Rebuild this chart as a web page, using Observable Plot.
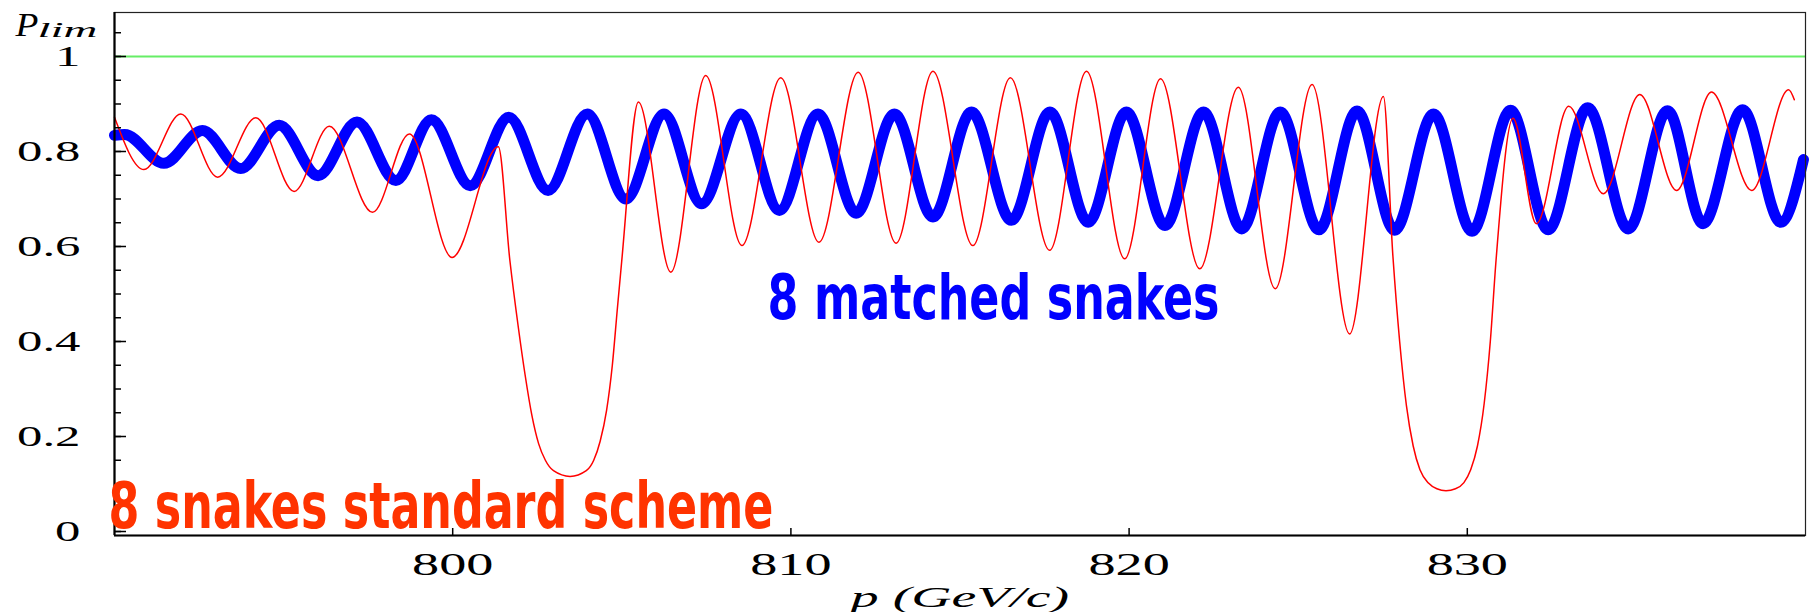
<!DOCTYPE html>
<html><head><meta charset="utf-8">
<script src="https://cdn.jsdelivr.net/npm/d3@7"></script>
<script src="https://cdn.jsdelivr.net/npm/@observablehq/plot@0.6"></script>
<style>html,body{margin:0;padding:0;background:#fff;} #chart svg{display:block}</style>
</head><body><div id="chart"></div>
<script>
// ---- data ----
const blueP = [790.0, 790.3, 791.46, 792.6, 793.73, 794.87, 796.02, 797.17, 798.32, 799.37, 800.52, 801.66, 802.82, 803.98, 805.12, 806.25, 807.36, 808.52, 809.66, 810.8, 811.93, 813.06, 814.2, 815.34, 816.52, 817.66, 818.79, 819.92, 821.06, 822.2, 823.33, 824.47, 825.61, 826.74, 827.85, 829.0, 830.14, 831.28, 832.39, 833.56, 834.76, 835.92, 836.97, 838.14, 839.27, 839.94];
const blueV = [0.834, 0.836, 0.775, 0.844, 0.764, 0.855, 0.749, 0.862, 0.739, 0.867, 0.728, 0.872, 0.718, 0.879, 0.700, 0.879, 0.690, 0.879, 0.676, 0.879, 0.670, 0.879, 0.662, 0.883, 0.655, 0.883, 0.651, 0.883, 0.644, 0.883, 0.637, 0.883, 0.635, 0.885, 0.634, 0.879, 0.632, 0.887, 0.635, 0.892, 0.637, 0.886, 0.648, 0.888, 0.651, 0.783];

const redP = [790.0, 790.87, 791.96, 793.05, 794.18, 795.31, 796.35, 797.63, 798.72, 799.98, 801.35, 801.69, 801.94, 802.14, 802.34, 802.54, 802.74, 802.98, 803.47, 803.95, 804.17, 804.36, 804.55, 804.72, 804.87, 805.0, 805.49, 806.45, 807.48, 808.55, 809.7, 810.83, 811.99, 813.11, 814.2, 815.38, 816.49, 817.65, 818.74, 819.87, 820.93, 822.09, 823.23, 824.32, 825.41, 826.52, 827.52, 827.8, 828.0, 828.2, 828.4, 828.6, 828.85, 829.1, 829.37, 829.65, 829.9, 830.1, 830.3, 830.5, 830.68, 830.85, 831.35, 832.04, 833.0, 834.02, 835.1, 836.19, 837.22, 838.41, 839.5, 839.67];
const redV = [0.872, 0.762, 0.879, 0.746, 0.871, 0.716, 0.853, 0.672, 0.837, 0.577, 0.81, 0.571, 0.430, 0.33, 0.245, 0.185, 0.15, 0.128, 0.116, 0.128, 0.15, 0.19, 0.255, 0.35, 0.47, 0.571, 0.904, 0.546, 0.96, 0.602, 0.955, 0.609, 0.967, 0.607, 0.969, 0.602, 0.955, 0.592, 0.969, 0.574, 0.953, 0.553, 0.935, 0.511, 0.941, 0.416, 0.916, 0.58, 0.40, 0.265, 0.18, 0.13, 0.102, 0.09, 0.086, 0.09, 0.103, 0.13, 0.18, 0.27, 0.40, 0.571, 0.87, 0.648, 0.895, 0.711, 0.92, 0.718, 0.925, 0.718, 0.93, 0.909];

const limitLevel = [1];
const xDomain = [790, 840];
const yDomain = [-0.0084, 1.0926];
const xMajorTicks = [800, 810, 820, 830];
const xTickLabels = ["800", "810", "820", "830"];
const yMinorTicks = [0, 0.05, 0.1, 0.15, 0.2, 0.25, 0.3, 0.35, 0.4, 0.45, 0.5, 0.55, 0.6, 0.65, 0.7, 0.75, 0.8, 0.85, 0.9, 0.95, 1, 1.05];
const yMajorTicks = [0, 0.2, 0.4, 0.6, 0.8, 1];
const yTickLabels = ["0", "0.2", "0.4", "0.6", "0.8", "1"];
const xAxisTitle = ["p (GeV/c)"];
const yAxisTitle = ["P"];
const yAxisTitleSub = ["lim"];
const blueNote = [{text: "8 matched snakes", p: 809.31, v: 0.448}];
const redNote = [{text: "8 snakes standard scheme", p: 789.82, v: 0.008}];

const blue = blueP.map((p, i) => ({p, v: blueV[i]}));
const red = redP.map((p, i) => ({p, v: redV[i]}));

const serif = "'Liberation Serif','Times New Roman','DejaVu Serif',serif";
const narrow = "'Liberation Sans Narrow','Arial Narrow','DejaVu Sans Condensed','Liberation Sans',sans-serif";

const chart = Plot.plot({
  width: 1810, height: 612,
  marginLeft: 114, marginRight: 5, marginTop: 12, marginBottom: 77,
  x: {domain: xDomain},
  y: {domain: yDomain},
  style: {background: "white", fontFamily: serif, overflow: "visible"},
  marks: [
    Plot.ruleY(limitLevel, {stroke: "#66ee66", strokeWidth: 2}),
    Plot.line(blue, {x: "p", y: "v", stroke: "#0000ff", strokeWidth: 11, curve: "monotone-x"}),
    Plot.line(red, {x: "p", y: "v", stroke: "#ff0000", strokeWidth: 1.5, curve: "monotone-x"}),
    Plot.frame({stroke: "#222", strokeWidth: 1.2}),
    Plot.ruleX([xDomain[0]], {stroke: "#000", strokeWidth: 2.2}),
    Plot.ruleY([yDomain[0]], {stroke: "#000", strokeWidth: 2.2}),
    Plot.axisY({ticks: yMinorTicks, tickSize: 7, dx: 7, tickFormat: () => "", label: null, strokeWidth: 1.5}),
    Plot.axisY({ticks: yMajorTicks, tickSize: 12, dx: 12, tickFormat: () => "", label: null, strokeWidth: 1.5}),
    Plot.axisY({ticks: yMajorTicks, tickSize: 0, tickPadding: 34, fontSize: 29, label: null,
      tickFormat: d => yTickLabels[yMajorTicks.indexOf(d)]}),
    Plot.axisX({ticks: xMajorTicks, tickSize: 7, dy: -7, tickFormat: () => "", label: null, strokeWidth: 1.5}),
    Plot.axisX({ticks: xMajorTicks, tickSize: 0, tickPadding: 17, fontSize: 31, label: null,
      tickFormat: d => xTickLabels[xMajorTicks.indexOf(d)]}),
    Plot.text(xAxisTitle, {frameAnchor: "bottom", dy: 62, fontSize: 30, fontStyle: "italic", lineAnchor: "middle"}),
    Plot.text(yAxisTitle, {frameAnchor: "top-left", dx: -99, dy: -1, fontSize: 34, fontStyle: "italic", textAnchor: "start", lineAnchor: "top"}),
    Plot.text(yAxisTitleSub, {frameAnchor: "top-left", dx: -77, dy: 9, fontSize: 22, fontStyle: "italic", textAnchor: "start", lineAnchor: "top"}),
    Plot.text(blueNote, {x: "p", y: "v", text: "text", fill: "#0000ff", fontFamily: narrow, fontWeight: "bold", fontSize: 63, textAnchor: "start", lineAnchor: "bottom"}),
    Plot.text(redNote, {x: "p", y: "v", text: "text", fill: "#ff3300", fontFamily: narrow, fontWeight: "bold", fontSize: 64, textAnchor: "start", lineAnchor: "bottom"})
  ]
});
document.getElementById("chart").appendChild(chart);

// stretch the (horizontally stretched) texts of the original
const stretch = {"p (GeV/c)": 222, "P": 24, "lim": 60, "8 matched snakes": 452, "8 snakes standard scheme": 665};
const tickStretch = 1.75;
d3.select(chart).selectAll("text").each(function () {
  const t = this.textContent;
  const tr = this.getAttribute("transform") || "";
  if (t === "8 matched snakes" || t === "8 snakes standard scheme") {
    this.setAttribute("textLength", stretch[t]);
    this.setAttribute("lengthAdjust", "spacingAndGlyphs");
  } else if (t in stretch) {
    const w = this.getBBox().width;
    if (w > 0) this.setAttribute("transform", tr + ` scale(${stretch[t] / w},1)`);
  } else if (yTickLabels.includes(t) || xTickLabels.includes(t)) {
    this.setAttribute("transform", tr + ` scale(${tickStretch},1)`);
  }
});
</script>
</body></html>
